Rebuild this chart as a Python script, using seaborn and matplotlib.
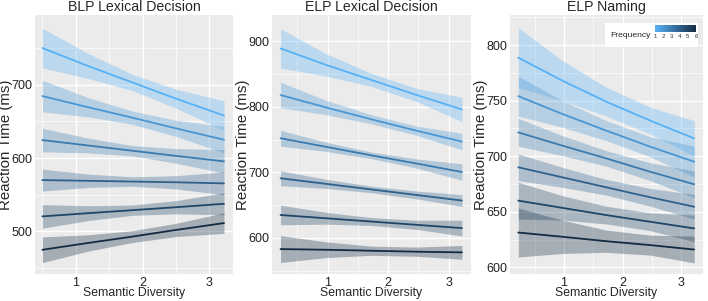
import numpy as np
import pandas as pd
import matplotlib
matplotlib.use('Agg')
import matplotlib.pyplot as plt
import seaborn as sns
from matplotlib.colors import LinearSegmentedColormap, Normalize
from matplotlib.cm import ScalarMappable
from matplotlib.patches import Rectangle
from matplotlib.ticker import MultipleLocator

# frequency levels (1 = low frequency, light blue; 6 = high, dark navy)
freqs = [1, 2, 3, 4, 5, 6]

# BLP Lexical Decision
blp_x = [0.5, 1.2, 1.85, 2.5, 3.22]
blp_fit = [[750, 725, 703, 681, 658],
           [684.5, 669, 655, 640.5, 625],
           [624.5, 617, 610, 603, 595.5],
           [570, 569, 568, 567, 565.5],
           [520.5, 525, 529, 533, 537.7],
           [475, 484.5, 493, 502, 511.4]]
blp_lo = [[723, 708, 692, 668, 638],
          [663, 656, 646, 629.5, 607],
          [608.5, 607, 603, 593, 579.5],
          [555, 560, 561.5, 558, 550],
          [504.5, 515, 522, 524, 522.7],
          [457.5, 473.5, 485, 493, 497.4]]
blp_hi = [[777, 742, 714, 694, 678],
          [706, 682, 664, 651.5, 643],
          [640.5, 627, 617, 613, 611.5],
          [585, 578, 574.5, 576, 581],
          [536.5, 535, 536, 542, 552.7],
          [492.5, 495.5, 501, 511, 525.4]]

# ELP Lexical Decision
elpld_x = [0.22, 0.97, 1.72, 2.47, 3.22]
elpld_fit = [[889, 864, 841, 818, 796],
             [818, 799, 781, 763.5, 747],
             [752, 739, 726, 713.5, 700.5],
             [691, 682.5, 674, 665.5, 657],
             [635, 630, 625, 620, 615],
             [583, 582, 580.5, 579, 578]]
elpld_lo = [[859, 847, 831, 808, 777.5],
            [798.5, 788, 774, 756.5, 734.3],
            [740, 732, 721, 706.5, 688],
            [679.5, 675.5, 669, 659.5, 648],
            [620, 621, 619, 613, 603],
            [562.5, 570, 573.5, 572, 567.5]]
elpld_hi = [[919, 881, 851, 828, 814.5],
            [837.5, 810, 788, 770.5, 759.7],
            [764, 746, 731, 720.5, 713],
            [702.5, 689.5, 679, 671.5, 666],
            [650, 639, 631, 627, 627],
            [603.5, 594, 587.5, 586, 588.5]]

# ELP Naming
elpn_x = [0.22, 0.97, 1.72, 2.47, 3.22]
elpn_fit = [[788.6, 768, 749, 732, 716],
            [754, 738, 723, 708.5, 695],
            [721.4, 709.5, 698, 686, 674.7],
            [690, 681, 672, 663, 654.5],
            [660, 653.5, 647, 641, 635],
            [631.3, 627.5, 623.5, 620, 616]]
elpn_lo = [[761.6, 750, 736, 720, 700],
           [736, 726, 714, 699.5, 681],
           [709, 700.5, 691, 678, 662.7],
           [678, 672, 665, 655, 643.5],
           [643.5, 642.5, 639, 633, 623],
           [609.3, 612.5, 613.5, 611, 604]]
elpn_hi = [[815.6, 786, 762, 744, 732],
           [772, 750, 732, 717.5, 709],
           [734, 718.5, 705, 694, 686.7],
           [702, 690, 679, 671, 665.5],
           [676.5, 664.5, 655, 649, 647],
           [653.3, 642.5, 633.5, 629, 628]]

titles = ["BLP Lexical Decision", "ELP Lexical Decision", "ELP Naming"]

sns.set_style('darkgrid', {'axes.facecolor': '#EBEBEB', 'grid.color': 'white'})
plt.rcParams['font.family'] = ['Liberation Sans', 'DejaVu Sans']

cmap = LinearSegmentedColormap.from_list('freq', ['#56B1F7', '#132B43'])
norm = Normalize(1, 6)

W, H = 708, 301
fig = plt.figure(figsize=(W / 100, H / 100), dpi=100)
# panel boxes in pixels: left, right
boxes = [(35, 233), (271.5, 471), (509.5, 703)]
top, bottom = 15, 274
axes = [fig.add_axes([l / W, (H - bottom) / H, (r - l) / W, (bottom - top) / H])
        for l, r in boxes]
ax1, ax2, ax3 = axes

panels = [
    (ax1, blp_x, blp_fit, blp_lo, blp_hi, (0.39, 3.355), (442, 795), 100),
    (ax2, elpld_x, elpld_fit, elpld_lo, elpld_hi, (0.07, 3.37), (545, 940), 100),
    (ax3, elpn_x, elpn_fit, elpn_lo, elpn_hi, (0.07, 3.37), (594, 827), 50),
]

for i, (ax, xs, fit, lo, hi, xlim, ylim, ystep) in enumerate(panels):
    rows = []
    for f, ys in zip(freqs, fit):
        for xv, yv in zip(xs, ys):
            rows.append({'x': xv, 'rt': yv, 'freq': f})
    df = pd.DataFrame(rows)
    for f, l, h in zip(freqs, lo, hi):
        ax.fill_between(xs, l, h, color=cmap(norm(f)), alpha=0.32, lw=0)
    sns.lineplot(data=df, x='x', y='rt', hue='freq', palette=cmap, hue_norm=norm,
                 legend=False, ax=ax, lw=1.3, errorbar=None)
    ax.set_xlim(*xlim)
    ax.set_ylim(*ylim)
    ax.xaxis.set_major_locator(MultipleLocator(1))
    ax.xaxis.set_minor_locator(MultipleLocator(0.5))
    ax.yaxis.set_major_locator(MultipleLocator(ystep))
    ax.yaxis.set_minor_locator(MultipleLocator(ystep / 2))
    ax.grid(which='major', color='white', lw=1.0)
    ax.grid(which='minor', color='white', lw=0.5)
    ax.tick_params(which='major', length=1.5, width=0.6, color='#333333',
                   labelsize=9, labelcolor='#222222', pad=0.3)
    ax.tick_params(which='minor', length=0)
    for s in ax.spines.values():
        s.set_visible(False)
    ax.set_title(titles[i], fontsize=10.2, pad=3)
    ax.set_xlabel('Semantic Diversity', fontsize=8.8)
    ax.set_ylabel('Reaction Time (ms)', fontsize=10.8)
    wpx = boxes[i][1] - boxes[i][0]
    ax.xaxis.set_label_coords(0.5, -13 / (bottom - top))
    ax.yaxis.set_label_coords(-21.5 / wpx, 0.5)

# colourbar legend inside the naming panel
ax3.add_patch(Rectangle((0.4935, 0.878), 0.4805, 0.092, transform=ax3.transAxes,
                        facecolor='white', edgecolor='none', zorder=5))
ax3.text(0.522, 0.921, 'Frequency', transform=ax3.transAxes, fontsize=6.1,
         va='center', ha='left', zorder=6)
cax = ax3.inset_axes([0.752, 0.936, 0.212, 0.025])
cax.set_zorder(7)
cb = fig.colorbar(ScalarMappable(norm=norm, cmap=cmap), cax=cax, orientation='horizontal')
cb.set_ticks(freqs)
cb.outline.set_visible(False)
cax.tick_params(length=1.5, width=0.5, color='white', direction='in', labelsize=4.3,
                pad=1.5, labelcolor='#333333')

fig.savefig('out.png', dpi=100)
